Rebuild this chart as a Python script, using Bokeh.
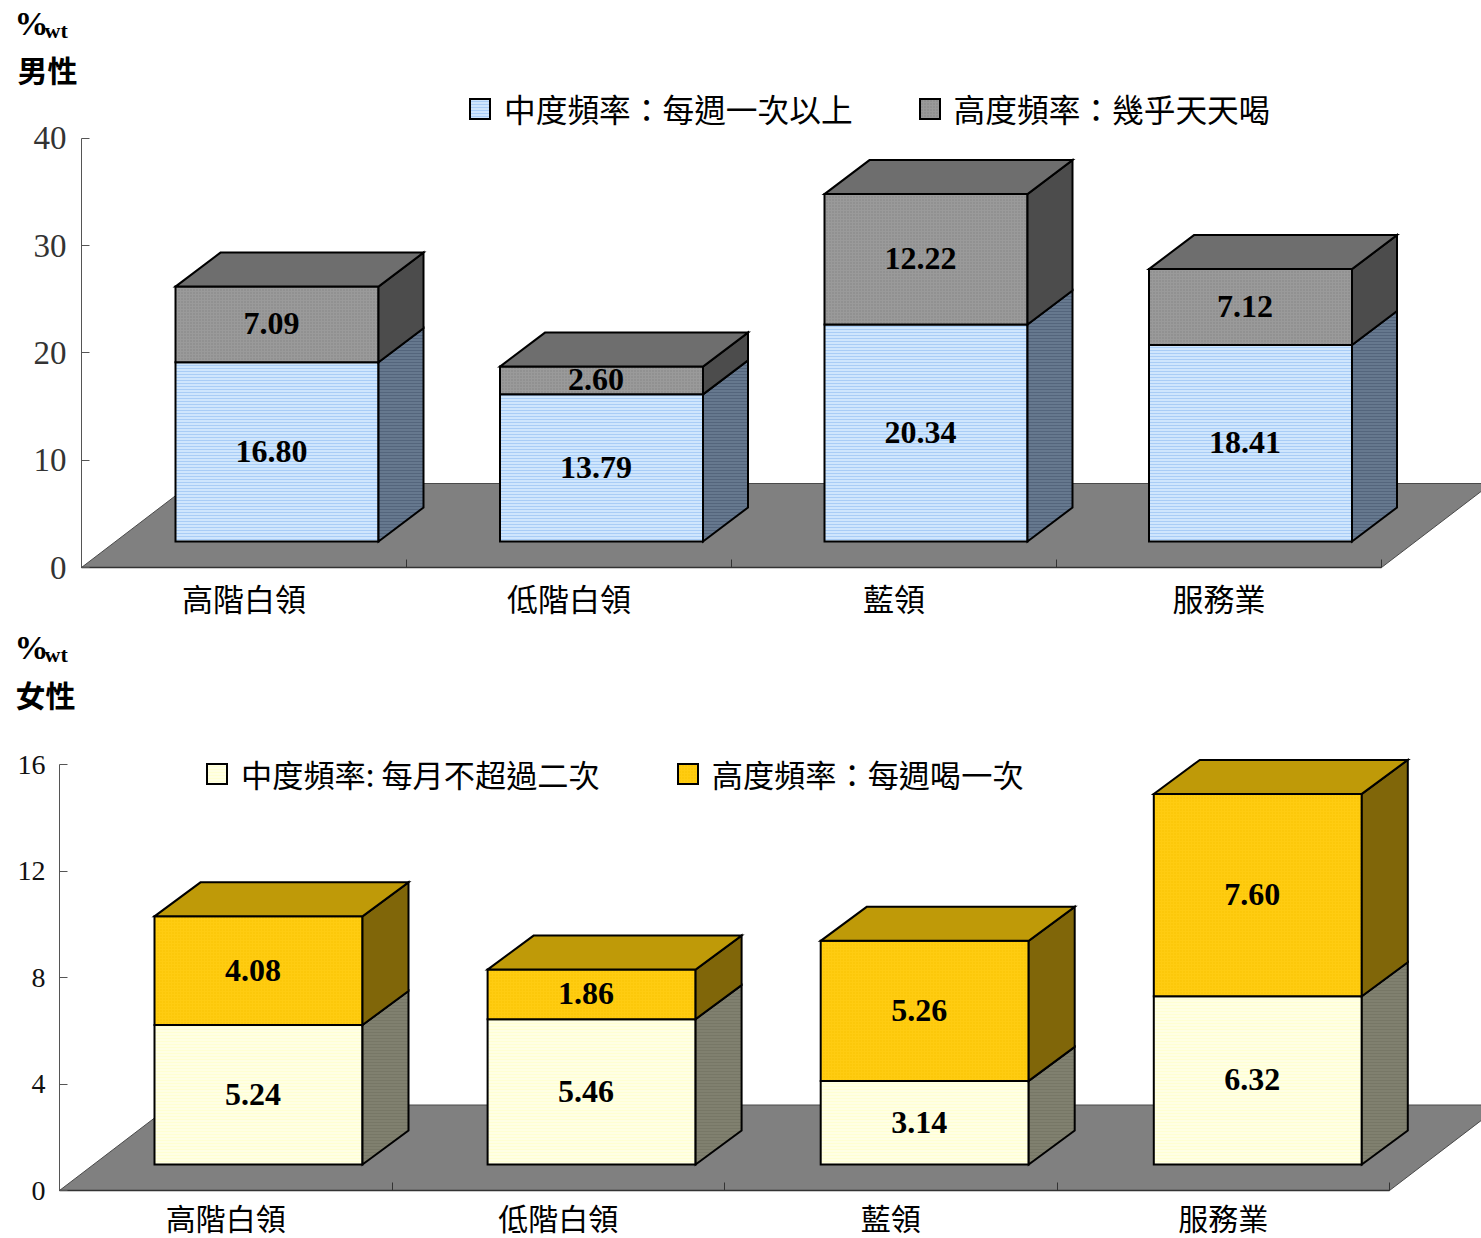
from bokeh.plotting import figure
from bokeh.layouts import column
from bokeh.models import (ColumnDataSource, FixedTicker, Legend, LegendItem, LinearAxis, Range1d)
from bokeh.core.properties import value
from bokeh.embed import file_html
from bokeh.resources import INLINE

SERIF = "Liberation Serif"
CJK = "Noto Sans CJK TC"

categories = ["高階白領", "低階白領", "藍領", "服務業"]
men_moderate = [16.80, 13.79, 20.34, 18.41]
men_high = [7.09, 2.60, 12.22, 7.12]
women_moderate = [5.24, 5.46, 3.14, 6.32]
women_high = [4.08, 1.86, 5.26, 7.60]
men_ticks = [0, 10, 20, 30, 40]
women_ticks = [0, 4, 8, 12, 16]
men_legend = ["中度頻率：每週一次以上", "高度頻率：幾乎天天喝"]
women_legend = ["中度頻率: 每月不超過二次", "高度頻率：每週喝一次"]


def panel(low, high, ticks, legend_labels, gender, st, colors, tick_color):
    def px(x):
        return (x - st["axis_x"]) / st["sx"]

    def py(y):
        return (st["axis_y"] - y) / st["sy"]

    H = st["bottom"] - st["top"]
    p = figure(width=1481, height=H, output_backend="svg", toolbar_location=None,
               x_range=Range1d(px(0), px(1481)), y_range=Range1d(py(st["bottom"]), py(st["top"])),
               x_axis_type=None, y_axis_type=None,
               min_border_left=0, min_border_right=0, min_border_top=0, min_border_bottom=0,
               outline_line_color=None, background_fill_color="white", border_fill_color="white")
    p.xgrid.visible = False
    p.ygrid.visible = False

    # floor
    back = st["floor_dy"] / st["sy"]
    dxb = st["floor_dx"] / st["sx"]
    n = len(low)
    p.patch([0, n, n + dxb, dxb], [0, 0, back, back], fill_color="#808080",
            line_color="#4a4a4a", line_width=1)

    w = st["bar_w"] / st["sx"]
    off = st["bar_off"] / st["sx"]
    pitch = st["pitch"] / st["sx"]
    base = (st["axis_y"] - st["bar_base"]) / st["sy"]
    ddx = st["depth_x"] / st["sx"]
    ddy = st["depth_y"] / st["sy"]
    K = st["k"]

    fx, lo_y, up_y, lo_sx, lo_sy, up_sx, up_sy, tx, ty, lx, ly1, ly2 = ([] for _ in range(12))
    for i, (a, b) in enumerate(zip(low, high)):
        l = i * pitch + off
        r = l + w
        y0 = base
        y1 = base + a * K
        y2 = base + (a + b) * K
        fx.append([l, r, r, l])
        lo_y.append([y0, y0, y1, y1])
        up_y.append([y1, y1, y2, y2])
        lo_sx.append([r, r + ddx, r + ddx, r])
        lo_sy.append([y0, y0 + ddy, y1 + ddy, y1])
        up_sx.append([r, r + ddx, r + ddx, r])
        up_sy.append([y1, y1 + ddy, y2 + ddy, y2])
        tx.append([l, r, r + ddx, l + ddx])
        ty.append([y2, y2, y2 + ddy, y2 + ddy])
        lx.append((l + r) / 2)
        ly1.append((y0 + y1) / 2)
        ly2.append((y1 + y2) / 2)

    edge = dict(line_color="black", line_width=2, line_join="miter")
    r_low = p.patches(fx, lo_y, fill_color=colors["lo"], hatch_pattern="horizontal_line",
                      hatch_color=colors["lo_h"], hatch_scale=3, hatch_weight=1, **edge)
    p.patches(lo_sx, lo_sy, fill_color=colors["lo_side"], hatch_pattern="horizontal_line",
              hatch_color=colors["lo_side_h"], hatch_scale=3, hatch_weight=1, **edge)
    r_high = p.patches(fx, up_y, fill_color=colors["hi"], hatch_pattern="dot",
                       hatch_color=colors["hi_h"], hatch_scale=3, hatch_weight=1, **edge)
    p.patches(up_sx, up_sy, fill_color=colors["hi_side"], **edge)
    p.patches(tx, ty, fill_color=colors["hi_top"], **edge)

    for vals, ys in ((low, ly1), (high, ly2)):
        src = ColumnDataSource(dict(x=lx, y=ys, t=["%.2f" % v for v in vals]))
        p.text("x", "y", text="t", source=src, text_font=value(SERIF), text_font_style="bold",
               text_font_size="32px", text_align="center", text_baseline="middle",
               text_color="black", x_offset=-5.5, y_offset=-0.5)

    # axes
    yax = LinearAxis(ticker=FixedTicker(ticks=ticks), bounds=(ticks[0], ticks[-1]), fixed_location=0,
                     axis_line_color="#555555", axis_line_width=1,
                     major_tick_line_color="#555555", major_tick_in=8, major_tick_out=0,
                     minor_tick_line_color=None,
                     major_label_text_font=SERIF, major_label_text_font_size=st["tick_size"],
                     major_label_text_color=tick_color, major_label_standoff=st["y_standoff"])
    p.add_layout(yax, "left")
    centres = [i + 0.5 for i in range(n)]
    xax = LinearAxis(ticker=FixedTicker(ticks=centres, minor_ticks=list(range(n + 1))),
                     bounds=(0, n), fixed_location=0, major_label_overrides=dict(zip(centres, categories)),
                     axis_line_color="#333333", axis_line_width=1.5,
                     major_tick_line_color=None, major_tick_in=0, major_tick_out=0,
                     minor_tick_line_color="#333333", minor_tick_in=8, minor_tick_out=0,
                     major_label_text_font=CJK, major_label_text_font_size=st["x_size"],
                     major_label_text_color="black", major_label_standoff=st["x_standoff"])
    p.add_layout(xax, "below")

    # legend
    leg = Legend(items=[LegendItem(label=value(legend_labels[0]), renderers=[r_low]),
                        LegendItem(label=value(legend_labels[1]), renderers=[r_high])],
                 orientation="horizontal", location=st["leg_loc"], spacing=st["leg_space"],
                 padding=0, margin=0, glyph_width=25, glyph_height=25, label_standoff=st["leg_standoff"],
                 label_text_font=CJK, label_text_font_size=st["leg_size"], label_text_color="black",
                 background_fill_alpha=0, border_line_alpha=0, label_height=22)
    p.add_layout(leg, "center")

    # headings
    pct = dict(text_font=value(SERIF), text_font_style="bold", text_color="black",
               text_baseline="alphabetic", text_align="left")
    p.text([px(st["pct_x"])], [py(st["pct_y"])], text=["%"], text_font_size="34px", **pct)
    p.text([px(st["pct_x"] + 30)], [py(st["pct_y"] + 7)], text=["wt"], text_font_size="22px", **pct)
    p.text([px(st["g_x"])], [py(st["g_y"])], text=[gender], text_font=value(CJK), text_font_style="bold",
           text_font_size="30px", text_color="black", text_baseline="middle", text_align="left")
    return p


men_style = dict(axis_x=81, axis_y=567, sx=325.0, sy=10.73, top=0, bottom=628, floor_dx=110, floor_dy=84,
                 bar_w=203, pitch=324.5, bar_off=94, bar_base=541, depth_x=45, depth_y=34, k=10.67 / 10.73,
                 tick_size="33px", y_standoff=15, x_standoff=7, x_size="31px", leg_loc=(467, 497), leg_space=64,
                 leg_standoff=12, leg_size="31.7px", pct_x=14, pct_y=23, g_x=17, g_y=68)
men_colors = dict(lo="#cfe6fd", lo_h="#a9cdf6", lo_side="#66788e", lo_side_h="#54657c",
                  hi="#9a9a9a", hi_h="#858585", hi_side="#4c4c4c", hi_top="#6e6e6e")
women_style = dict(axis_x=59, axis_y=1190, sx=332.5, sy=26.625, top=628, bottom=1238, floor_dx=112, floor_dy=85.5,
                   bar_w=208, pitch=333.1, bar_off=95, bar_base=1164, depth_x=46, depth_y=34, k=1.0,
                   tick_size="28px", y_standoff=14, x_standoff=4, x_size="30px", leg_loc=(204, 442), leg_space=75,
                   leg_standoff=12, leg_size="31.2px", pct_x=14, pct_y=647, g_x=15, g_y=693)
women_colors = dict(lo="#ffffe4", lo_h="#ffffd2", lo_side="#80806f", lo_side_h="#777766",
                    hi="#ffcc11", hi_h="#f7c200", hi_side="#806609", hi_top="#bf9a08")

p1 = panel(men_moderate, men_high, men_ticks, men_legend, "男性", men_style, men_colors, "#333333")
p2 = panel(women_moderate, women_high, women_ticks, women_legend, "女性", women_style, women_colors, "#111111")

page = column(p1, p2, spacing=0)
open("out.html", "w").write(file_html(page, INLINE))
